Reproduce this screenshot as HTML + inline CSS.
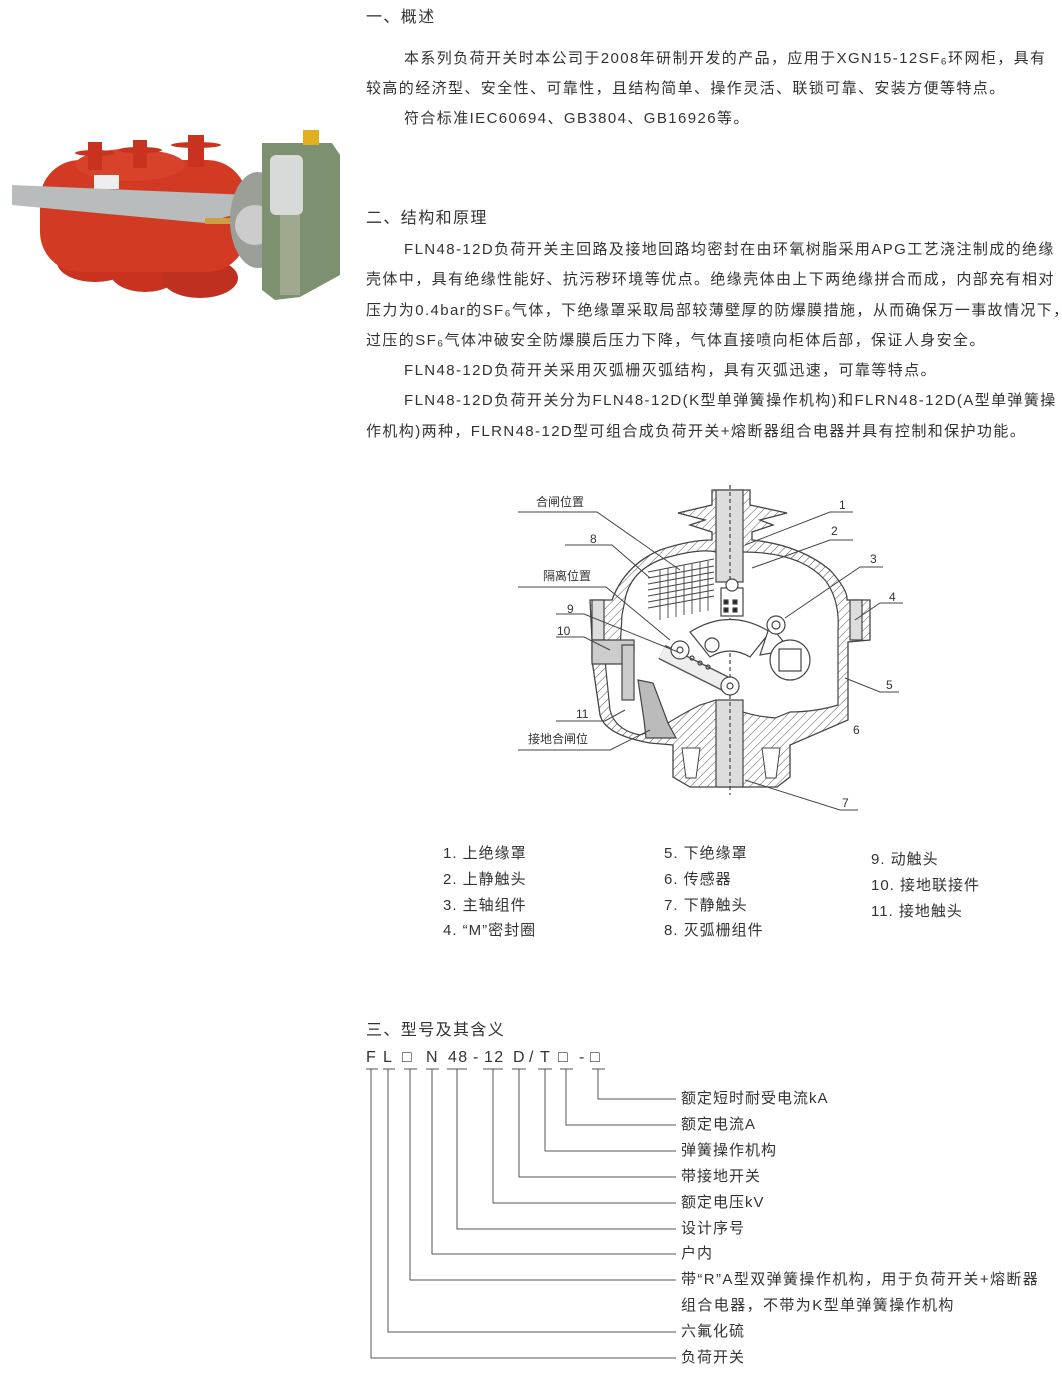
<!DOCTYPE html>
<html><head><meta charset="utf-8"><style>
body{margin:0;width:1062px;height:1379px;background:#fff;position:relative;overflow:hidden;font-family:"Liberation Sans","Noto Sans CJK SC",sans-serif;color:#333;}
.t{position:absolute;font-size:15px;white-space:nowrap;line-height:18px;letter-spacing:1.4px;}
.l{letter-spacing:1px;}
.n{font-size:12px;letter-spacing:0;}
svg{position:absolute;left:0;top:0;}
</style></head><body>
<svg width="1062" height="1379" viewBox="0 0 1062 1379">
<defs>
<pattern id="h" width="6" height="6" patternUnits="userSpaceOnUse" patternTransform="rotate(45)">
<rect width="6" height="6" fill="#fff"/><line x1="0" y1="0" x2="0" y2="6" stroke="#555" stroke-width="1"/></pattern>
</defs>
<!-- photo -->
<g>
<ellipse cx="95" cy="262" rx="38" ry="20" fill="#c8321e"/>
<ellipse cx="145" cy="272" rx="35" ry="20" fill="#c8321e"/>
<ellipse cx="200" cy="278" rx="38" ry="20" fill="#c03020"/>
<rect x="40" y="160" width="207" height="112" rx="40" fill="#d23a24"/>
<ellipse cx="130" cy="165" rx="55" ry="16" fill="#d8412a"/>
<rect x="88" y="142" width="14" height="28" fill="#c8321e"/><ellipse cx="95" cy="153" rx="20" ry="3" fill="#c8321e"/>
<rect x="133" y="140" width="14" height="28" fill="#c8321e"/><ellipse cx="140" cy="150" rx="22" ry="3" fill="#c8321e"/>
<rect x="188" y="135" width="16" height="32" fill="#c8321e"/><ellipse cx="196" cy="145" rx="25" ry="3" fill="#c8321e"/>
<rect x="94" y="175" width="25" height="14" fill="#eee"/>
<polygon points="12,185 250,195 250,210 205,223 12,205" fill="#b8bcbc"/>
<rect x="205" y="218" width="40" height="6" fill="#c8a040"/>
<ellipse cx="258" cy="220" rx="28" ry="48" fill="#9aa098"/>
<circle cx="255" cy="225" r="20" fill="#ccc"/>
<polygon points="262,143 332,143 340,155 340,275 300,297 275,300 262,290" fill="#7d9070"/>
<rect x="270" y="155" width="33" height="60" rx="6" fill="#d8dada"/>
<rect x="303" y="130" width="16" height="15" fill="#e0b020"/>
<rect x="280" y="215" width="20" height="80" fill="#a0a890"/>
</g>
<!-- diagram housing -->
<path d="M712,490 L750,490 L750,505 L787,513 L760,520 L773,525 L752,532 L752,540 Q800,545 830,570 Q848,590 847,600 L870,600 L870,640 L848,642 L848,720 L790,745 L790,777 L777,787 L690,787 L673,777 L673,745 L650,743 Q605,735 600,715 L592,660 L592,640 L590,600 L612,600 Q625,565 660,550 Q690,540 712,540 L712,532 L690,525 L705,520 L678,513 L712,505 Z" fill="url(#h)" stroke="#444" stroke-width="1.3"/>
<path d="M625,600 Q630,570 665,558 Q700,548 716,552 L743,552 Q800,552 825,580 Q840,600 838,630 L838,705 Q815,712 790,712 L775,718 Q740,715 716,700 L700,705 Q680,715 660,728 L640,735 Q615,730 610,710 L605,660 L620,650 L622,615 Z" fill="#fff" stroke="#444" stroke-width="1.2"/>
<path d="M682,748 L700,748 L696,778 L686,778 Z M762,748 L780,748 L776,778 L766,778 Z" fill="#fff" stroke="#444"/>
<g stroke="#444" stroke-width="1.2">
<rect x="716" y="490" width="27" height="92" fill="#ddd"/>
<rect x="716" y="700" width="27" height="87" fill="#ddd"/>
<rect x="592" y="600" width="12" height="40" fill="#ddd"/>
<rect x="850" y="600" width="12" height="40" fill="#ddd"/>
</g>
<g fill="none" stroke="#444" stroke-width="1.2">
<line x1="730" y1="485" x2="730" y2="795" stroke-dasharray="4,3"/>
<rect x="721" y="588" width="22" height="28" fill="#fff"/>
<rect x="724" y="600" width="4" height="4" fill="#222"/><rect x="733" y="600" width="4" height="4" fill="#222"/>
<rect x="724" y="608" width="4" height="4" fill="#222"/><rect x="733" y="608" width="4" height="4" fill="#222"/>
<circle cx="732" cy="585" r="6" fill="#fff"/>
<g stroke-width="0.9"><path d="M648,572 l66,-13 M648,578 l66,-12 M648,584 l66,-12 M648,590 l66,-12 M648,596 l66,-12 M648,602 l66,-12 M648,608 l66,-12"/>
<path d="M660,570 v50 M668,568 v50 M676,567 v50 M684,565 v50 M692,564 v50 M700,562 v50 M708,561 v50"/></g>
<path d="M690,632 q40,-25 80,0 l-20,25 q-20,-12 -40,0 z" fill="#fff"/>
<circle cx="712" cy="645" r="7" fill="#fff"/>
<path d="M770,625 l20,25 l-30,5 z" fill="#fff"/>
<circle cx="776" cy="625" r="9" fill="#fff"/><circle cx="776" cy="625" r="4"/>
<circle cx="790" cy="660" r="20" fill="#fff"/><rect x="779" y="649" width="22" height="22"/>
<path d="M662,652 l70,35" stroke-width="16" stroke="#555"/>
<path d="M662,652 l70,35" stroke-width="13" stroke="#eee"/>
<circle cx="680" cy="650" r="9" fill="#fff"/><circle cx="680" cy="650" r="3"/>
<circle cx="730" cy="686" r="9" fill="#fff"/><circle cx="730" cy="686" r="3"/>
<circle cx="692" cy="658" r="2"/><circle cx="700" cy="663" r="2"/><circle cx="708" cy="667" r="2"/>
<path d="M592,640 h42 v12 l-10,12 h-32 z" fill="#ccc"/>
<rect x="622" y="645" width="12" height="55" fill="#ccc"/>
<path d="M638,680 l15,3 l15,40 l8,15 h-30 l-2,-18 z" fill="#bbb"/>
</g>
<g stroke="#444" stroke-width="1" fill="none">
<polyline points="518,512 597,512 680,570"/>
<polyline points="565,545 612,545 650,578"/>
<polyline points="518,587 606,587 670,640"/>
<polyline points="556,614 584,614 678,652"/>
<polyline points="556,637 584,637 610,650"/>
<polyline points="556,721 605,721 625,710"/>
<polyline points="518,750 610,750 650,730"/>
<polyline points="853,512 830,512 745,545"/>
<polyline points="853,540 830,540 752,568"/>
<polyline points="883,567 860,567 785,618"/>
<polyline points="903,603 880,603 855,620"/>
<polyline points="899,692 880,692 845,678"/>
<polyline points="858,810 840,810 745,780"/>
</g>
<!-- model lines -->
<g stroke="#555" stroke-width="1" fill="none">
<line x1="366" y1="1069" x2="378" y2="1069"/><line x1="383" y1="1069" x2="395" y2="1069"/>
<line x1="404" y1="1069" x2="417" y2="1069"/><line x1="426" y1="1069" x2="439" y2="1069"/>
<line x1="447" y1="1069" x2="467" y2="1069"/><line x1="483" y1="1069" x2="503" y2="1069"/>
<line x1="512" y1="1069" x2="526" y2="1069"/><line x1="538" y1="1069" x2="552" y2="1069"/>
<line x1="560" y1="1069" x2="573" y2="1069"/><line x1="592" y1="1069" x2="605" y2="1069"/>
<polyline points="598,1069 598,1099 676,1099"/>
<polyline points="566,1069 566,1125 676,1125"/>
<polyline points="545,1069 545,1151 676,1151"/>
<polyline points="519,1069 519,1177 676,1177"/>
<polyline points="493,1069 493,1203 676,1203"/>
<polyline points="457,1069 457,1229 676,1229"/>
<polyline points="432,1069 432,1254 676,1254"/>
<polyline points="410,1069 410,1280 676,1280"/>
<polyline points="388,1069 388,1332 676,1332"/>
<polyline points="371,1069 371,1358 676,1358"/>
</g>
</svg>

<div class="t" style="left:366px;top:9px;font-size:16px">一、概述</div>
<div class="t" style="left:404px;top:50px">本系列负荷开关时本公司于2008年研制开发的产品，应用于XGN15-12SF₆环网柜，具有</div>
<div class="t" style="left:366px;top:80px">较高的经济型、安全性、可靠性，且结构简单、操作灵活、联锁可靠、安装方便等特点。</div>
<div class="t" style="left:404px;top:110px">符合标准IEC60694、GB3804、GB16926等。</div>

<div class="t" style="left:366px;top:210px;font-size:16px">二、结构和原理</div>
<div class="t" style="left:404px;top:241px">FLN48-12D负荷开关主回路及接地回路均密封在由环氧树脂采用APG工艺浇注制成的绝缘</div>
<div class="t" style="left:366px;top:271px">壳体中，具有绝缘性能好、抗污秽环境等优点。绝缘壳体由上下两绝缘拼合而成，内部充有相对</div>
<div class="t" style="left:366px;top:302px">压力为0.4bar的SF₆气体，下绝缘罩采取局部较薄壁厚的防爆膜措施，从而确保万一事故情况下，</div>
<div class="t" style="left:366px;top:332px">过压的SF₆气体冲破安全防爆膜后压力下降，气体直接喷向柜体后部，保证人身安全。</div>
<div class="t" style="left:404px;top:362px">FLN48-12D负荷开关采用灭弧栅灭弧结构，具有灭弧迅速，可靠等特点。</div>
<div class="t" style="left:404px;top:392px">FLN48-12D负荷开关分为FLN48-12D(K型单弹簧操作机构)和FLRN48-12D(A型单弹簧操</div>
<div class="t" style="left:366px;top:423px">作机构)两种，FLRN48-12D型可组合成负荷开关+熔断器组合电器并具有控制和保护功能。</div>

<div class="t n" style="left:536px;top:493px">合闸位置</div>
<div class="t n" style="left:590px;top:530px">8</div>
<div class="t n" style="left:543px;top:567px">隔离位置</div>
<div class="t n" style="left:567px;top:600px">9</div>
<div class="t n" style="left:557px;top:622px">10</div>
<div class="t n" style="left:576px;top:705px">11</div>
<div class="t n" style="left:528px;top:730px">接地合闸位</div>
<div class="t n" style="left:839px;top:496px">1</div>
<div class="t n" style="left:831px;top:522px">2</div>
<div class="t n" style="left:870px;top:550px">3</div>
<div class="t n" style="left:889px;top:588px">4</div>
<div class="t n" style="left:886px;top:676px">5</div>
<div class="t n" style="left:853px;top:721px">6</div>
<div class="t n" style="left:842px;top:794px">7</div>

<div class="t l" style="left:443px;top:845px">1. 上绝缘罩</div>
<div class="t l" style="left:443px;top:871px">2. 上静触头</div>
<div class="t l" style="left:443px;top:897px">3. 主轴组件</div>
<div class="t l" style="left:443px;top:922px">4. “M”密封圈</div>
<div class="t l" style="left:664px;top:845px">5. 下绝缘罩</div>
<div class="t l" style="left:664px;top:871px">6. 传感器</div>
<div class="t l" style="left:664px;top:897px">7. 下静触头</div>
<div class="t l" style="left:664px;top:922px">8. 灭弧栅组件</div>
<div class="t l" style="left:871px;top:851px">9. 动触头</div>
<div class="t l" style="left:871px;top:877px">10. 接地联接件</div>
<div class="t l" style="left:871px;top:903px">11. 接地触头</div>

<div class="t" style="left:366px;top:1022px;font-size:16px">三、型号及其含义</div>
<div class="t" style="left:366px;top:1049px;font-size:16px">F</div>
<div class="t" style="left:383px;top:1049px;font-size:16px">L</div>
<div class="t" style="left:402px;top:1049px;font-size:16px">□</div>
<div class="t" style="left:426px;top:1049px;font-size:16px">N</div>
<div class="t" style="left:448px;top:1049px;font-size:16px">48</div>
<div class="t" style="left:473px;top:1049px;font-size:16px">-</div>
<div class="t" style="left:484px;top:1049px;font-size:16px">12</div>
<div class="t" style="left:513px;top:1049px;font-size:16px">D</div>
<div class="t" style="left:529px;top:1049px;font-size:16px">/</div>
<div class="t" style="left:540px;top:1049px;font-size:16px">T</div>
<div class="t" style="left:558px;top:1049px;font-size:16px">□</div>
<div class="t" style="left:579px;top:1049px;font-size:16px">-</div>
<div class="t" style="left:590px;top:1049px;font-size:16px">□</div>

<div class="t l" style="left:681px;top:1090px">额定短时耐受电流kA</div>
<div class="t l" style="left:681px;top:1116px">额定电流A</div>
<div class="t l" style="left:681px;top:1142px">弹簧操作机构</div>
<div class="t l" style="left:681px;top:1168px">带接地开关</div>
<div class="t l" style="left:681px;top:1194px">额定电压kV</div>
<div class="t l" style="left:681px;top:1220px">设计序号</div>
<div class="t l" style="left:681px;top:1245px">户内</div>
<div class="t" style="left:681px;top:1271px">带“R”A型双弹簧操作机构，用于负荷开关+熔断器</div>
<div class="t" style="left:681px;top:1297px">组合电器，不带为K型单弹簧操作机构</div>
<div class="t l" style="left:681px;top:1323px">六氟化硫</div>
<div class="t l" style="left:681px;top:1349px">负荷开关</div>
</body></html>
